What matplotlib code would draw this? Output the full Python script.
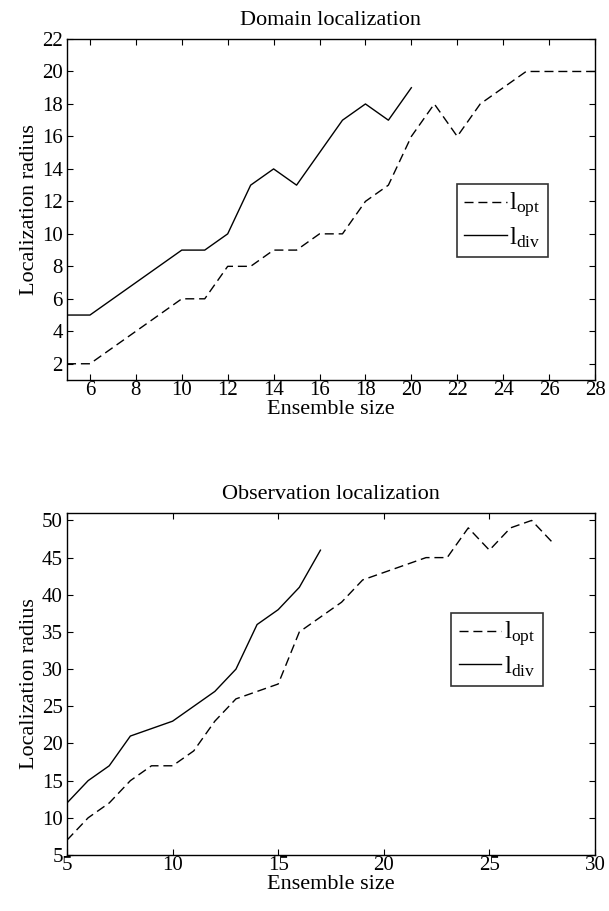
import matplotlib
matplotlib.use("Agg")
import matplotlib.pyplot as plt

plt.rcParams['font.family'] = ['Liberation Serif', 'DejaVu Serif']
plt.rcParams['mathtext.fontset'] = 'custom'
plt.rcParams['mathtext.rm'] = 'Liberation Serif'
plt.rcParams['mathtext.it'] = 'Liberation Serif'

# Domain localization
dom_x_opt = [5, 6, 7, 8, 9, 10, 11, 12, 13, 14, 15, 16, 17, 18, 19, 20, 21, 22, 23, 24, 25, 26, 27, 28]
dom_opt = [2, 2, 3, 4, 5, 6, 6, 8, 8, 9, 9, 10, 10, 12, 13, 16, 18, 16, 18, 19, 20, 20, 20, 20]
dom_x_div = [5, 6, 7, 8, 9, 10, 11, 12, 13, 14, 15, 16, 17, 18, 19, 20]
dom_div = [5, 5, 6, 7, 8, 9, 9, 10, 13, 14, 13, 15, 17, 18, 17, 19]

# Observation localization
obs_x_opt = [5, 6, 7, 8, 9, 10, 11, 12, 13, 14, 15, 16, 17, 18, 19, 20, 21, 22, 23, 24, 25, 26, 27, 28]
obs_opt = [7, 10, 12, 15, 17, 17, 19, 23, 26, 27, 28, 35, 37, 39, 42, 43, 44, 45, 45, 49, 46, 49, 50, 47]
obs_x_div = [5, 6, 7, 8, 9, 10, 11, 12, 13, 14, 15, 16, 17]
obs_div = [12, 15, 17, 21, 22, 23, 25, 27, 30, 36, 38, 41, 46]

dom_xticks = [6, 8, 10, 12, 14, 16, 18, 20, 22, 24, 26, 28]
dom_yticks = [2, 4, 6, 8, 10, 12, 14, 16, 18, 20, 22]
obs_xticks = [5, 10, 15, 20, 25, 30]
obs_yticks = [5, 10, 15, 20, 25, 30, 35, 40, 45, 50]

fs_tick = 15
fs_lab = 16
W, H = 609, 911
fig = plt.figure(figsize=(W / 100, H / 100), dpi=100)

def px(l, t, r, b):
    return [l / W, 1 - b / H, (r - l) / W, (b - t) / H]

ax1 = fig.add_axes(px(67, 39, 595, 380))
ax2 = fig.add_axes(px(67, 513, 595, 855))

dash = (0, (6.5, 3.5))
for ax, xo, yo, xd, yd, xl, yl, xt, yt, title, legpos in [
    (ax1, dom_x_opt, dom_opt, dom_x_div, dom_div, (5, 28), (1, 22), dom_xticks, dom_yticks,
     'Domain localization', (0.825, 0.468)),
    (ax2, obs_x_opt, obs_opt, obs_x_div, obs_div, (5, 30), (5, 51), obs_xticks, obs_yticks,
     'Observation localization', (0.814, 0.601)),
]:
    ax.plot(xo, yo, color='black', lw=1.0, linestyle=dash, label=r'l$_{\mathrm{opt}}$')
    ax.plot(xd, yd, color='black', lw=1.0, label=r'l$_{\mathrm{div}}$')
    ax.set_xlim(*xl)
    ax.set_ylim(*yl)
    ax.set_xticks(xt)
    ax.set_yticks(yt)
    ax.tick_params(direction='in', top=True, right=True, labelsize=fs_tick, length=4, width=0.8)
    ax.tick_params(axis='x', pad=1)
    ax.tick_params(axis='y', pad=3)
    for s in ax.spines.values():
        s.set_linewidth(1.0)
    ax.set_xlabel('Ensemble size', fontsize=fs_lab, labelpad=0)
    ax.set_ylabel('Localization radius', fontsize=fs_lab, labelpad=2)
    ax.set_title(title, fontsize=fs_lab, pad=10)
    leg = ax.legend(loc='center', bbox_to_anchor=legpos, fontsize=18, frameon=True, fancybox=False,
                    edgecolor='black', handlelength=1.7, handletextpad=0.1, borderpad=0.3,
                    labelspacing=0.2, borderaxespad=0)
    leg.get_frame().set_linewidth(1.2)

fig.savefig('out.png', dpi=100)
